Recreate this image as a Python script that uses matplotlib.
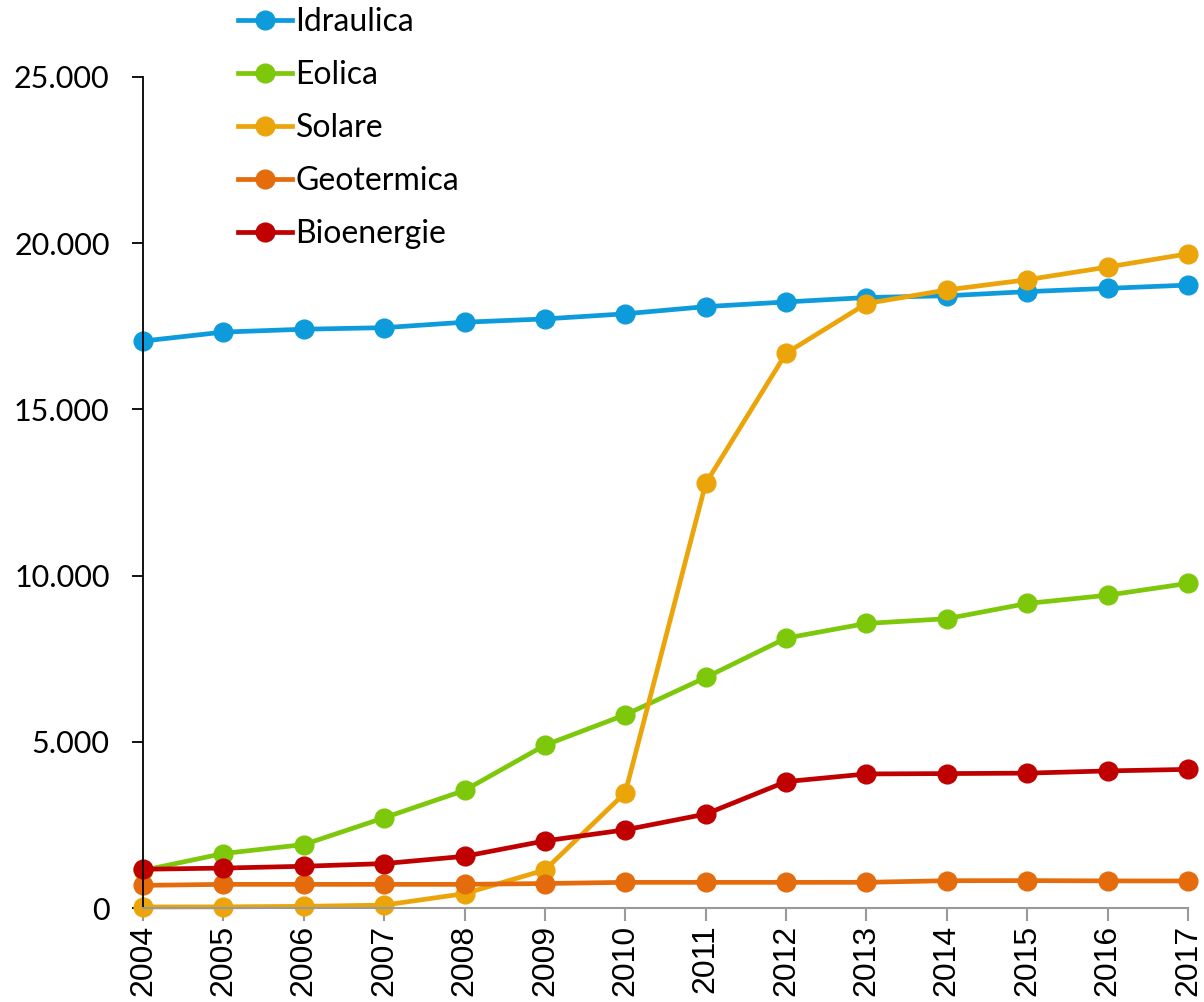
import numpy as np
import matplotlib
matplotlib.use("Agg")
import matplotlib.pyplot as plt
from matplotlib.ticker import FuncFormatter

years = list(range(2004, 2018))
idraulica = [17056, 17326, 17412, 17459, 17623, 17722, 17876, 18092, 18232, 18366, 18418, 18543, 18641, 18740]
eolica = [1131, 1639, 1908, 2714, 3538, 4898, 5814, 6936, 8119, 8561, 8703, 9162, 9410, 9766]
solare = [31, 34, 50, 87, 432, 1144, 3470, 12773, 16690, 18185, 18594, 18901, 19283, 19682]
geotermica = [681, 711, 711, 711, 711, 737, 772, 772, 772, 773, 821, 824, 815, 813]
bioenergie = [1166, 1201, 1256, 1336, 1555, 2019, 2352, 2825, 3802, 4033, 4044, 4057, 4124, 4170]

series = [
    ("Idraulica", idraulica, "#0E9BDB"),
    ("Eolica", eolica, "#7DC80B"),
    ("Solare", solare, "#EBA50B"),
    ("Geotermica", geotermica, "#E46C0D"),
    ("Bioenergie", bioenergie, "#C00000"),
]

fig = plt.figure(figsize=(12.04, 10.02), dpi=100)
ax = fig.add_axes([143/1204, 1-908/1002, (1188-143)/1204, (908-77)/1002])

for name, vals, col in series:
    ax.plot(years, vals, color=col, lw=3.4, marker="o", ms=13.5, label=name,
            solid_joinstyle="round", clip_on=False)

ax.set_xlim(2004, 2017)
ax.set_ylim(0, 25000)
ax.set_yticks(np.arange(0, 25001, 5000))
ax.yaxis.set_major_formatter(FuncFormatter(lambda v, p: f"{int(v):,}".replace(",", ".")))
ax.set_xticks(years)
ax.set_xticklabels([str(y) for y in years], rotation=90, fontsize=23,
                   family=["Liberation Sans", "DejaVu Sans"])
for t in ax.get_yticklabels():
    t.set_fontsize(22)
    t.set_family(["Lato", "DejaVu Sans"])

for s in ["top", "right"]:
    ax.spines[s].set_visible(False)
ax.spines["left"].set_color("black")
ax.spines["left"].set_linewidth(1.3)
ax.spines["bottom"].set_color("#999999")
ax.spines["bottom"].set_linewidth(1.5)
ax.tick_params(axis="y", direction="out", length=8, width=1.3, color="black", pad=16)
ax.tick_params(axis="x", direction="out", length=9, width=1.5, color="#999999", pad=3)

# legend sits above the plot, left of centre
leg = ax.legend(loc="upper left", bbox_to_anchor=(225/1204, 1.0 + 6/1002), bbox_transform=fig.transFigure,
                frameon=False, handlelength=1.69, handletextpad=0.12,
                labelspacing=0.72, borderaxespad=0.0,
                prop={"family": ["Lato", "DejaVu Sans"], "size": 23})

fig.savefig("out.png", dpi=100)
